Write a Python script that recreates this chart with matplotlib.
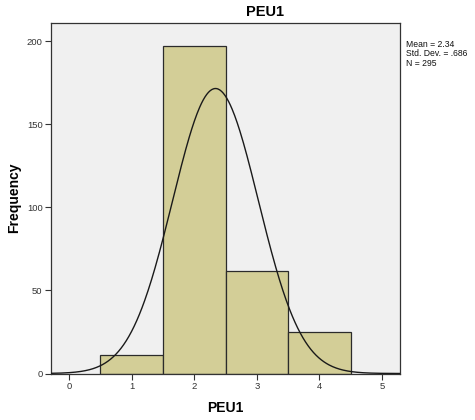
import numpy as np
import matplotlib
matplotlib.use("Agg")
import matplotlib.pyplot as plt

categories = [1, 2, 3, 4]
frequencies = [11, 197, 62, 25]
mean_val = 2.34
std_val = 0.686
n_val = 295
x_ticks = [0, 1, 2, 3, 4, 5]
y_ticks = [0, 50, 100, 150, 200]

plt.rcParams['font.family'] = ['Liberation Sans', 'DejaVu Sans']

fig = plt.figure(figsize=(4.75, 4.2), dpi=100)
ax = fig.add_axes([51/475, 1 - 373.5/420, (400-51)/475, (373.5-23)/420])
ax.set_facecolor('#F0F0F0')

ax.bar(categories, frequencies, width=1.0, color='#D3CE97', edgecolor='#2b2b2b', linewidth=0.9, zorder=2)

xs = np.linspace(-0.29, 5.29, 400)
ys = n_val * 1.0 / (std_val * np.sqrt(2 * np.pi)) * np.exp(-0.5 * ((xs - mean_val) / std_val) ** 2)
ax.plot(xs, ys, color='#1a1a1a', linewidth=1.0, zorder=3)

ax.set_xlim(-0.29, 5.29)
ax.set_ylim(0, 211)
ax.set_xticks(x_ticks)
ax.set_yticks(y_ticks)
ax.tick_params(axis='both', labelsize=6.8, colors='#333333', length=4, width=0.8, pad=2)
for s in ax.spines.values():
    s.set_color('#333333')
    s.set_linewidth(0.9)

ax.set_xlabel('PEU1', fontsize=10, fontweight='bold', labelpad=7)
ax.set_ylabel('Frequency', fontsize=10, fontweight='bold', labelpad=4)
fig.text(265/475, 1 - 12/420, 'PEU1', fontsize=10.5, fontweight='bold', ha='center', va='center')

fig.text(406/475, 1 - 40/420, 'Mean = %.2f\nStd. Dev. = .686\nN = %d' % (mean_val, n_val),
         fontsize=6.2, ha='left', va='top', linespacing=1.05, color='#111111')

fig.savefig('out.png', dpi=100, facecolor='white')
